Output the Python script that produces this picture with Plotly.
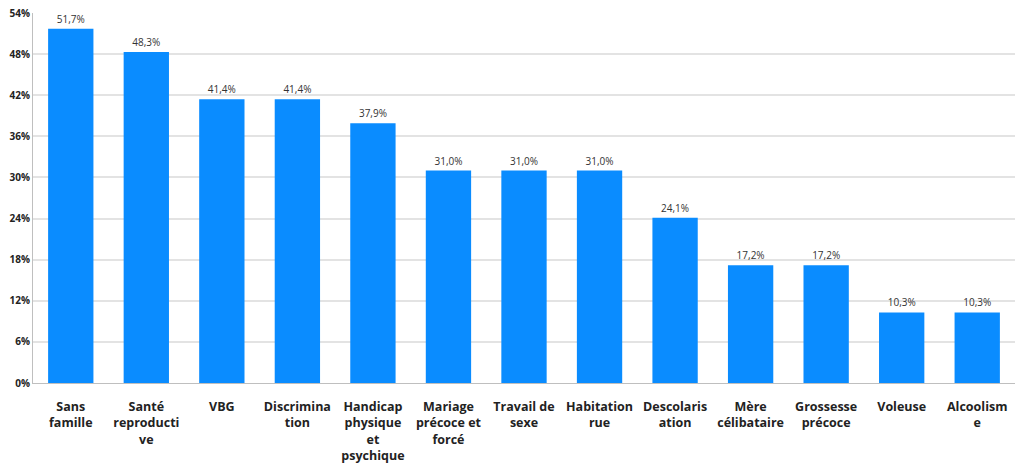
import plotly.graph_objects as go

categories = [
    "Sans<br>famille",
    "Santé<br>reproducti<br>ve",
    "VBG",
    "Discrimina<br>tion",
    "Handicap<br>physique<br>et<br>psychique",
    "Mariage<br>précoce et<br>forcé",
    "Travail de<br>sexe",
    "Habitation<br>rue",
    "Descolaris<br>ation",
    "Mère<br>célibataire",
    "Grossesse<br>précoce",
    "Voleuse",
    "Alcoolism<br>e",
]
values = [51.7, 48.3, 41.4, 41.4, 37.9, 31.0, 31.0, 31.0, 24.1, 17.2, 17.2, 10.3, 10.3]
y_ticks = [0, 6, 12, 18, 24, 30, 36, 42, 48, 54]

labels = [f"{v:.1f}".replace(".", ",") + "%" for v in values]

fig = go.Figure(
    go.Bar(
        x=categories,
        y=values,
        text=labels,
        textposition="outside",
        cliponaxis=False,
        textfont=dict(family="Open Sans, sans-serif", size=10, color="#333333"),
        marker=dict(color="#0A8CFF", line=dict(width=0)),
    )
)

fig.update_layout(
    width=1015,
    height=465,
    margin=dict(l=33, r=0, t=13, b=82),
    paper_bgcolor="white",
    plot_bgcolor="white",
    bargap=0.4,
    showlegend=False,
    font=dict(family="Open Sans, sans-serif"),
)
fig.update_xaxes(
    tickfont=dict(size=12.5, color="#222222", weight="bold"),
    showline=True,
    linecolor="#BFBFBF",
    linewidth=1,
    ticks="",
    tickangle=0,
    ticklabelstandoff=12,
)
fig.update_yaxes(
    range=[0, 54],
    tickvals=y_ticks,
    ticktext=[f"{t}%" for t in y_ticks],
    tickfont=dict(size=10, color="#222222", weight="bold"),
    showgrid=True,
    gridcolor="#E3E3E3",
    gridwidth=1.5,
    showline=True,
    linecolor="#BFBFBF",
    linewidth=1,
    zeroline=False,
    ticks="",
)

fig.write_html("out.html")
